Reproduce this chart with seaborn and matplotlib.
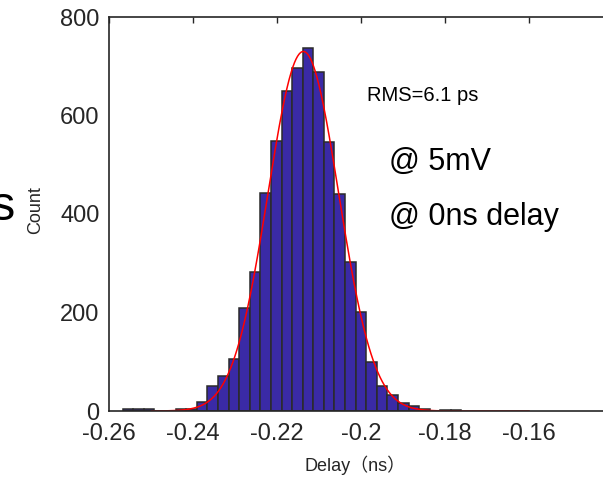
import numpy as np
import pandas as pd
import matplotlib
matplotlib.use("Agg")
import matplotlib.pyplot as plt
import seaborn as sns

# ---- data ----
delay_centers = [-0.25554, -0.25302, -0.25050, -0.24798, -0.24546, -0.24294,
                 -0.24042, -0.23790, -0.23538, -0.23286, -0.23034, -0.22782,
                 -0.22530, -0.22278, -0.22026, -0.21774, -0.21522, -0.21270,
                 -0.21018, -0.20766, -0.20514, -0.20262, -0.20010, -0.19758,
                 -0.19506, -0.19254, -0.19002, -0.18750, -0.18498, -0.18246,
                 -0.17994, -0.17742]
counts = [4, 4, 4, 0, 0, 5, 5, 18, 50, 71, 106, 209, 283, 442, 549, 650, 697,
          738, 688, 546, 441, 303, 202, 100, 50, 32, 16, 11, 4, 0, 2, 2]
bin_width = 0.00252

# Gaussian fit parameters
fit_amp = 730.0
fit_mu = -0.2138
fit_sigma = 0.0084
fit_range = (-0.25, -0.16)

x_ticks = [-0.26, -0.24, -0.22, -0.20, -0.18, -0.16, -0.14]
x_ticklabels = ["-0.26", "-0.24", "-0.22", "-0.2", "-0.18", "-0.16", ""]
y_ticks = [0, 200, 400, 600, 800]

sns.set_style("white")
plt.rcParams["font.family"] = ["Liberation Sans", "Noto Sans CJK SC", "DejaVu Sans"]

df = pd.DataFrame({"delay": delay_centers, "count": counts})
edges = [c - bin_width / 2 for c in delay_centers] + [delay_centers[-1] + bin_width / 2]

fig = plt.figure(figsize=(6.03, 4.8), dpi=100)
W, H = 603, 480
ax = fig.add_axes([109.3 / W, 69 / H, 504 / W, 394 / H])

sns.histplot(data=df, x="delay", weights="count", bins=edges, stat="count",
             color="#3A2AA6", alpha=1.0, edgecolor="#2b2b2b", linewidth=1.1, ax=ax)

xs = np.linspace(fit_range[0], fit_range[1], 500)
ys = fit_amp * np.exp(-(xs - fit_mu) ** 2 / (2 * fit_sigma ** 2))
sns.lineplot(x=xs, y=ys, color="#ff0000", linewidth=1.1, ax=ax)

ax.set_xlim(-0.26, -0.14)
ax.set_ylim(0, 800)
ax.set_xticks(x_ticks)
ax.set_xticklabels(x_ticklabels)
ax.set_yticks(y_ticks)

for side in ["left", "bottom", "top", "right"]:
    ax.spines[side].set_visible(True)
    ax.spines[side].set_color("#262626")
    ax.spines[side].set_linewidth(1.2)

ax.tick_params(axis="both", direction="in", length=4, width=1.0, color="#262626",
               labelsize=17, labelcolor="#262626", top=True, right=True)
ax.tick_params(axis="x", pad=9)
ax.tick_params(axis="y", pad=7)

ax.set_xlabel("Delay（ns）", fontsize=13, color="#262626")
ax.set_ylabel("Count", fontsize=13, color="#262626")
ax.xaxis.set_label_coords((355.5 - 109.3) / 504, (411 - 456) / 394)
ax.yaxis.set_label_coords((44 - 109.3) / 504, 0.51)

ax.text(-0.19864, 629, "RMS=6.1 ps", fontsize=14.5, color="black", va="baseline", ha="left")
ax.text(-0.19336, 489, "@ 5mV", fontsize=22, color="black", va="baseline", ha="left")
ax.text(-0.19336, 378, "@ 0ns delay", fontsize=22, color="black", va="baseline", ha="left")

fig.text(15 / W, 1 - 220 / H, "s", fontsize=35, color="black", ha="right", va="baseline")

fig.savefig("out.png", dpi=100)
